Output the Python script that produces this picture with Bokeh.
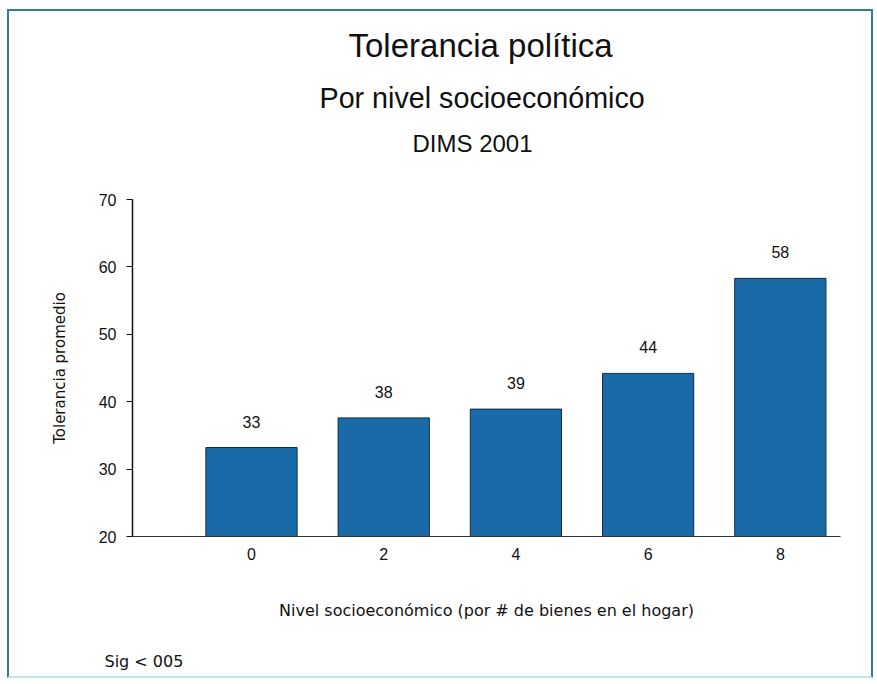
from bokeh.plotting import figure
from bokeh.models import ColumnDataSource, Range1d, FixedTicker, Title
from bokeh.embed import file_html
from bokeh.resources import INLINE
from bokeh.core.properties import value

# ---- data ----
niveles = [0, 2, 4, 6, 8]
tolerancia = [33.2, 37.6, 38.9, 44.2, 58.3]
etiquetas = ["33", "38", "39", "44", "58"]
y_ticks = [20, 30, 40, 50, 60, 70]
x_ticks = [0, 2, 4, 6, 8]

titulo = "Tolerancia política"
subtitulo = "Por nivel socioeconómico"
fuente = "DIMS 2001"
x_label = "Nivel socioeconómico (por # de bienes en el hogar)"
y_label = "Tolerancia promedio"
nota = "Sig  < 005"

FONT = "Liberation Sans"
WIDE = "DejaVu Sans"
INK = "#111111"

src = ColumnDataSource(dict(nivel=niveles, tol=tolerancia, lab=etiquetas))

p = figure(width=866, height=669, title=None,
           x_range=Range1d(-1.80, 8.91), y_range=Range1d(20, 70),
           output_backend="svg", toolbar_location=None,
           min_border_left=123, min_border_right=35,
           min_border_top=188, min_border_bottom=144)
p.styles = {"margin-left": "7px", "margin-top": "9px",
            "border": "2px solid #2b8298",
            "border-bottom-color": "#c4e2ea"}

p.background_fill_color = "white"
p.border_fill_color = "white"
p.outline_line_color = None
p.xgrid.visible = False
p.ygrid.visible = False

p.vbar(x="nivel", top="tol", bottom=20, width=1.38, source=src,
       fill_color="#1b6aa8", line_color="#0d2d4d", line_width=1)

p.text(x="nivel", y="tol", text="lab", source=src, y_offset=-26,
       text_align="center", text_baseline="middle",
       text_font=value(FONT), text_font_size="16px", text_color=INK)

# y axis
p.yaxis.ticker = FixedTicker(ticks=y_ticks)
p.yaxis.major_label_text_font = FONT
p.yaxis.major_label_text_font_size = "16px"
p.yaxis.major_label_text_color = INK
p.yaxis.major_tick_out = 6
p.yaxis.major_tick_in = 0
p.yaxis.minor_tick_out = 0
p.yaxis.minor_tick_in = 0
p.yaxis.major_label_standoff = 10
p.yaxis.axis_line_width = 1.5
p.yaxis.axis_line_color = INK
p.yaxis.major_tick_line_color = INK
p.yaxis.axis_label = y_label
p.yaxis.axis_label_text_font = WIDE
p.yaxis.axis_label_text_font_size = "15px"
p.yaxis.axis_label_text_font_style = "normal"
p.yaxis.axis_label_text_color = INK
p.yaxis.axis_label_standoff = 27

# x axis
p.xaxis.ticker = FixedTicker(ticks=x_ticks)
p.xaxis.major_label_text_font = FONT
p.xaxis.major_label_text_font_size = "16px"
p.xaxis.major_label_text_color = INK
p.xaxis.major_tick_out = 0
p.xaxis.major_tick_in = 0
p.xaxis.minor_tick_out = 0
p.xaxis.minor_tick_in = 0
p.xaxis.major_label_standoff = 11
p.xaxis.axis_line_color = "#333333"
p.xaxis.axis_line_width = 1.2

# titles above (first added sits closest to the plot)
p.add_layout(Title(text=" ", text_font_size="1px", standoff=38), "above")
p.add_layout(Title(text=fuente, align="left", offset=280, text_font=FONT,
                   text_font_size="24px", text_font_style="normal",
                   text_color=INK, standoff=4), "above")
p.add_layout(Title(text=subtitulo, align="left", offset=187, text_font=FONT,
                   text_font_size="28.7px", text_font_style="normal",
                   text_color=INK, standoff=24), "above")
p.add_layout(Title(text=titulo, align="left", offset=216, text_font=FONT,
                   text_font_size="33px", text_font_style="normal",
                   text_color=INK, standoff=8), "above")

# x axis title and note below
p.add_layout(Title(text=x_label, align="center", text_font=WIDE,
                   text_font_size="16px", text_font_style="normal",
                   text_color=INK, standoff=73), "below")
p.add_layout(Title(text=nota, align="left", offset=-28, text_font=WIDE,
                   text_font_size="16px", text_font_style="normal",
                   text_color=INK, standoff=-14), "below")

open("out.html", "w").write(file_html(p, INLINE))
